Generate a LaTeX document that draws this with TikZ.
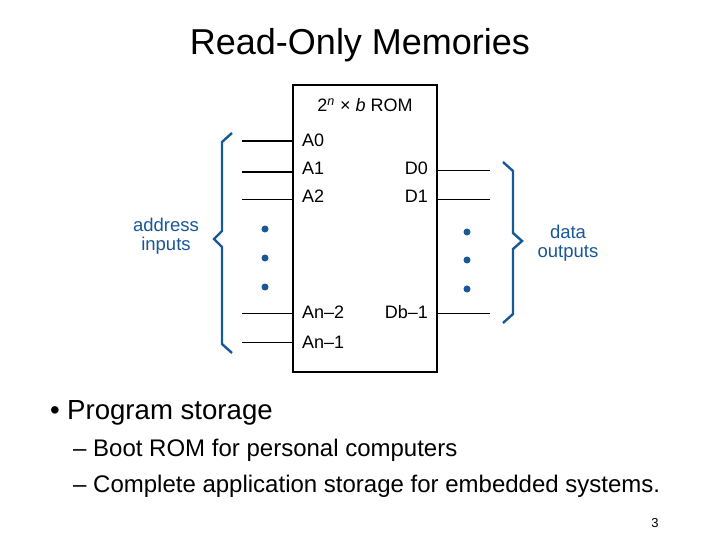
\documentclass[tikz,border=0pt]{standalone}
\usepackage{fontspec}
\setmainfont{Liberation Sans}
\definecolor{romblue}{RGB}{24,88,152}
\begin{document}
\begin{tikzpicture}[x=1pt,y=-1pt,
  lbl/.style={inner sep=0pt,font=\fontsize{18}{20}\selectfont},
  bluelbl/.style={inner sep=0pt,text=romblue,align=center,font=\fontsize{18.5}{19}\selectfont},
  pin/.style={line width=0.9pt},
  thickpin/.style={line width=1.8pt},
  bracepath/.style={draw=romblue,line width=2.4pt,line join=miter},
  dotmark/.style={fill=romblue,draw=none}]
\useasboundingbox (0,0) rectangle (720,540);
\fill[white] (0,0) rectangle (720,540);
% title
\node[inner sep=0pt,anchor=base,font=\fontsize{36}{40}\selectfont] (title) at (360,55) {Read-Only Memories};
% ROM box
\node[draw,line width=1.8pt,minimum width=144pt,minimum height=287pt,inner sep=0pt] (rom) at (365,228.5) {};
\node[lbl,anchor=base] (romtitle) at (365,112) {2\textsuperscript{\itshape n} × {\itshape b} ROM};
% address labels
\node[lbl,anchor=base west] (la0) at (302,147) {A0};
\node[lbl,anchor=base west] (la1) at (302,175) {A1};
\node[lbl,anchor=base west] (la2) at (302,203) {A2};
\node[lbl,anchor=base west] (lan2) at (302,318) {An–2};
\node[lbl,anchor=base west] (lan1) at (302,348) {An–1};
% data labels
\node[lbl,anchor=base east] (ld0) at (428,175) {D0};
\node[lbl,anchor=base east] (ld1) at (428,203) {D1};
\node[lbl,anchor=base east] (ldb) at (428,318) {Db–1};
% input pins
\coordinate (ia0) at (242,141);
\coordinate (ia1) at (242,172);
\coordinate (ia2) at (242,199);
\coordinate (ian2) at (242,313);
\coordinate (ian1) at (242,342);
\draw[thickpin] (ia0) -- (ia0 -| rom.west);
\draw[thickpin] (ia1) -- (ia1 -| rom.west);
\draw[pin] (ia2) -- (ia2 -| rom.west);
\draw[pin] (ian2) -- (ian2 -| rom.west);
\draw[pin] (ian1) -- (ian1 -| rom.west);
% output pins
\coordinate (od0) at (490,170);
\coordinate (od1) at (490,199);
\coordinate (odb) at (490,313);
\draw[pin] (od0 -| rom.east) -- (od0);
\draw[pin] (od1 -| rom.east) -- (od1);
\draw[pin] (odb -| rom.east) -- (odb);
% dots
\foreach \y in {229,258,287} \fill[dotmark] (265,\y) circle (3.5pt);
\foreach \y in {232,260,289} \fill[dotmark] (467,\y) circle (3.5pt);
% braces
\draw[bracepath] (232,133) -- (222,142) -- (222,231) -- (214,239) -- (222,247) -- (222,344) -- (232,353);
\draw[bracepath] (503,162) -- (513,171) -- (513,233) -- (522,241) -- (513,249) -- (513,314) -- (503,323);
% brace labels
\node[bluelbl,anchor=base] (addr1) at (166,232) {address};
\node[bluelbl,anchor=base] (addr2) at (166,251) {inputs};
\node[bluelbl,anchor=base] (data1) at (568,238) {data};
\node[bluelbl,anchor=base] (data2) at (568,257) {outputs};
% bullets
\node[inner sep=0pt,anchor=base west,font=\fontsize{27.6}{30}\selectfont] (bul) at (50,419) {•};
\node[inner sep=0pt,anchor=base west,font=\fontsize{27.6}{30}\selectfont] (b1) at (67,419) {Program storage};
\node[inner sep=0pt,anchor=base west,font=\fontsize{24}{28}\selectfont] (s1) at (73,456) {– Boot ROM for personal computers};
\node[inner sep=0pt,anchor=base west,font=\fontsize{24}{28}\selectfont] (s2) at (73,492) {– Complete application storage for embedded systems.};
% page number
\node[inner sep=0pt,anchor=base,font=\fontsize{13}{15}\selectfont] (pg) at (655,527) {3};
\end{tikzpicture}
\end{document}
